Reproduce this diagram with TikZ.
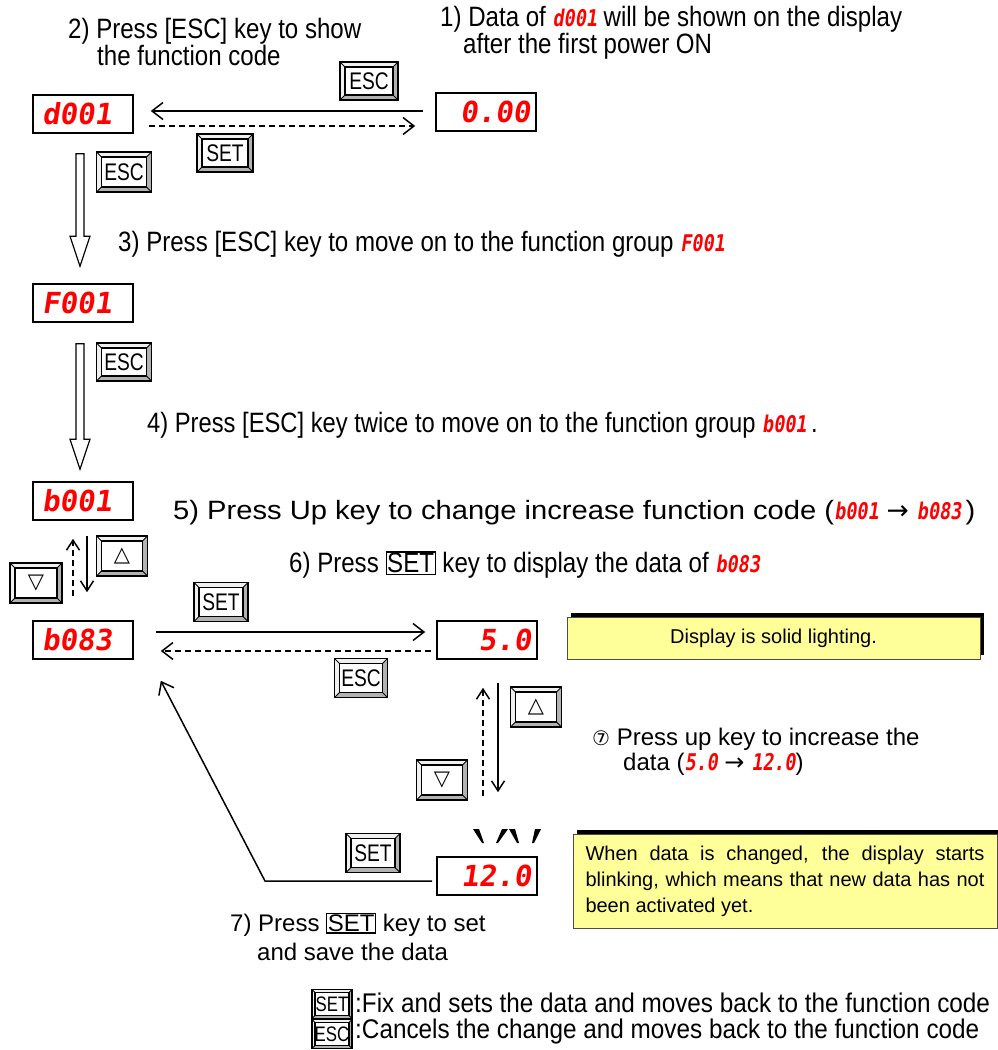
\documentclass[tikz,border=0pt]{standalone}
\usepackage{fontspec}
\setmainfont{Liberation Sans}
\newfontfamily\stepfont{Liberation Sans}[FakeStretch=0.86]
\newfontfamily\stepfontn{Liberation Sans}[FakeStretch=0.848]
\newfontfamily\stepfontw{Liberation Sans}[FakeStretch=1.1]
\newfontfamily\legfont{Liberation Sans}[FakeStretch=0.9]
\newfontfamily\keyfont{Liberation Sans}[FakeStretch=0.8]
\newfontfamily\segfont{DejaVu Sans Mono Bold}[FakeSlant=0.15]
\newfontfamily\segnarrow{DejaVu Sans Mono Bold}[FakeSlant=0.15,FakeStretch=0.8]
\newfontfamily\symfont{DejaVu Sans}
\usetikzlibrary{arrows.meta,calc,shadows}
\definecolor{segred}{RGB}{255,0,0}
\definecolor{noteyellow}{RGB}{255,255,153}
\newcommand\seg[1]{{\color{segred}\segnarrow\fontsize{23}{23}\selectfont #1}}
\newcommand\keyframe[1]{{\setlength\fboxsep{0.5pt}\setlength\fboxrule{1.2pt}\fbox{#1}}}
\newcommand\hollowarrow[2]{%
  \draw[line width=1.2, fill=white] ($(#1)+(-4,0)$) -- ($(#2)+(-4,-30)$) -- ($(#2)+(-10,-30)$) -- (#2) -- ($(#2)+(10,-30)$) -- ($(#2)+(4,-30)$) -- ($(#1)+(4,0)$) -- cycle;}
\begin{document}
\begin{tikzpicture}[x=1pt,y=-1pt,
  disp/.style={draw=black, line width=1.6, fill=white, minimum width=100, minimum height=38, inner sep=0,
    font=\color{segred}\segfont\fontsize{29}{29}\selectfont},
  dispL/.style={disp, text width=82, align=left},
  dispR/.style={disp, text width=88, align=right},
  keyb/.style n args={3}{draw=black, line width=1.2, fill=gray!60, minimum width=#1, minimum height=#2, inner sep=0,
    font=\keyfont\fontsize{24}{24}\selectfont,
    path picture={
      \fill[gray!12] (path picture bounding box.north west) -- (path picture bounding box.north east) -- ++(-#3,#3)
        -- ($(path picture bounding box.north west)+(#3,#3)$) -- ($(path picture bounding box.south west)+(#3,-#3)$)
        -- (path picture bounding box.south west) -- cycle;
      \draw[fill=white, line width=1.2] ($(path picture bounding box.north west)+(#3,#3)$) rectangle ($(path picture bounding box.south east)+(-#3,-#3)$);
      \draw[line width=0.8] (path picture bounding box.north west) -- ++(#3,#3)
        (path picture bounding box.north east) -- ++(-#3,#3)
        (path picture bounding box.south west) -- ++(#3,-#3)
        (path picture bounding box.south east) -- ++(-#3,-#3);
    }},
  arr/.style={line width=1.5, -{Straight Barb[length=11pt,width=17pt]}},
  varr/.style={line width=1.5, -{Straight Barb[length=10pt,width=13pt]}},
  dsh/.style={dash pattern=on 6pt off 4pt},
  steptxt/.style={anchor=west, inner sep=0, font=\stepfont\fontsize{28}{28}\selectfont},
  ntxt/.style={anchor=west, inner sep=0, font=\fontsize{24}{24}\selectfont},
  legtxt/.style={anchor=west, inner sep=0, font=\legfont\fontsize{27}{27}\selectfont},
  note/.style={fill=noteyellow, draw=black!70, line width=0.8, inner sep=0,
    drop shadow={shadow xshift=4pt, shadow yshift=4pt, opacity=1, fill=black},
    font=\fontsize{20}{26}\selectfont},
  blink/.style={fill=black}
]
\useasboundingbox (0,0) rectangle (998,1050);
\fill[white] (0,0) rectangle (998,1050);

% displays
\node[dispL] (d001) at (83,114) {d001};
\node[dispR] (d000) at (486,112) {0.00};
\node[dispL] (F001) at (83,303) {F001};
\node[dispL] (b001) at (83,501) {b001};
\node[dispL] (b083) at (83,640) {b083};
\node[dispR] (v50) at (487,640) {5.0};
\node[dispR] (v120) at (487,876) {12.0};

% keys
\node[keyb={58}{38}{5}] (kEsc1) at (369,81) {ESC};
\node[keyb={56}{38}{5}] (kSet1) at (225,153) {SET};
\node[keyb={55}{40}{5}] (kEsc2) at (124,172) {ESC};
\node[keyb={55}{38}{5}] (kEsc3) at (124,362) {ESC};
\node[keyb={51}{40}{5}, font=\symfont\fontsize{21}{21}\selectfont] (kUp1) at (122,556) {△};
\node[keyb={52}{40}{5}, font=\symfont\fontsize{21}{21}\selectfont] (kDn1) at (36,583) {▽};
\node[keyb={54}{39}{5}] (kSet2) at (221,602) {SET};
\node[keyb={53}{39}{5}] (kEsc4) at (361,678) {ESC};
\node[keyb={51}{40}{5}, font=\symfont\fontsize{21}{21}\selectfont] (kUp2) at (536,707) {△};
\node[keyb={51}{40}{5}, font=\symfont\fontsize{21}{21}\selectfont] (kDn2) at (442,780) {▽};
\node[keyb={54}{39}{5}] (kSet3) at (373,853) {SET};
\node[keyb={40}{29}{3}, font=\keyfont\fontsize{21}{21}\selectfont] (legSet) at (332,1004) {SET};
\node[keyb={40}{29}{3}, font=\keyfont\fontsize{21}{21}\selectfont] (legEsc) at (332,1034) {ESC};

% top arrows
\draw[arr] ($(d000.west)+(-12,-1)$) -- ($(d001.east |- d000.west)+(17,-1)$);
\draw[arr,dsh] ($(d001.east)+(15,12)$) -- ($(d000.west |- d001.east)+(-20,12)$);

% hollow arrows
\coordinate (h1s) at ($(d001.south)+(-3,20)$);
\coordinate (h1e) at ($(F001.north)+(-3,-17)$);
\hollowarrow{h1s}{h1e}
\coordinate (h2s) at ($(F001.south)+(-3,21)$);
\coordinate (h2e) at ($(b001.north)+(-3,-12)$);
\hollowarrow{h2s}{h2e}

% b001 <-> b083
\draw[varr] ($(b001.south)+(4,15)$) -- ($(b083.north)+(4,-28)$);
\draw[varr,dsh] ($(b083.north)+(-10,-24)$) -- ($(b001.south)+(-10,18)$);

% b083 <-> 5.0
\draw[arr] ($(b083.east)+(22,-8)$) -- ($(v50.west)+(-11,-8)$);
\draw[arr,dsh] ($(v50.west)+(-5,11)$) -- ($(b083.east)+(27,11)$);

% 5.0 <-> 12.0
\draw[varr] ($(v50.south)+(11,23)$) -- ($(v120.north)+(11,-64)$);
\draw[varr,dsh] ($(v120.north)+(-4,-60)$) -- ($(v50.south)+(-4,28)$);

% return arrow
\coordinate (ret) at (265,881);
\draw[arr] ($(v120.west)+(-4,5)$) -- (ret) -- ($(b083.south east)+(27,21)$);

% blinking marks
\fill[blink] (473,829) -- (479,829) -- (484,843) -- (482,843) -- cycle;
\fill[blink] (502,829) -- (508,829) -- (498,843) -- (496,843) -- cycle;
\fill[blink] (509,829) -- (515,829) -- (519,843) -- (517,843) -- cycle;
\fill[blink] (535,829) -- (541,829) -- (534,843) -- (532,843) -- cycle;

% notes
\node[note, minimum width=413, minimum height=42] (n1) at (773.5,638) {Display is solid lighting.};
\node[note, minimum width=424, minimum height=94, text width=399, align=justify] (n2) at (785,881)
  {When data is changed, the display starts blinking, which means that new data has not been activated yet.};

% texts
\node[steptxt] (s2a) at (68,31) {2) Press [ESC] key to show};
\node[steptxt] (s2b) at (97,55) {the function code};
\node[steptxt] (s1a) at (440,19) {1) Data of \seg{d001} will be shown on the display};
\node[steptxt] (s1b) at (463,46) {after the first power ON};
\node[steptxt] (s3) at (118,244) {3) Press [ESC] key to move on to the function group \seg{F001}};
\node[steptxt, font=\stepfontn\fontsize{28}{28}\selectfont] (s4) at (147,425) {4) Press [ESC] key twice to move on to the function group \seg{b001}\,.};
\node[steptxt, font=\stepfontw\fontsize{26.5}{26.5}\selectfont] (s5) at (173,513) {5) Press Up key to change increase function code (\seg{b001} {\symfont →} \seg{b083}\,)};
\node[steptxt] (s6) at (289,565) {6) Press \keyframe{SET} key to display the data of \seg{b083}};
\node[ntxt] (s7a) at (592,739) {{\symfont\fontsize{20}{20}\selectfont ⑦} Press up key to increase the};
\node[ntxt] (s7b) at (623,764) {data (\seg{5.0} {\symfont →}\ \seg{12.0})};
\node[ntxt] (s8a) at (230,925) {7) Press \keyframe{SET} key to set};
\node[ntxt] (s8b) at (257,952) {and save the data};
\node[legtxt] (leg1) at (355,1003) {:Fix and sets the data and moves back to the function code};
\node[legtxt] (leg2) at (355,1032) {:Cancels the change and moves back to the function code};
\end{tikzpicture}
\end{document}
